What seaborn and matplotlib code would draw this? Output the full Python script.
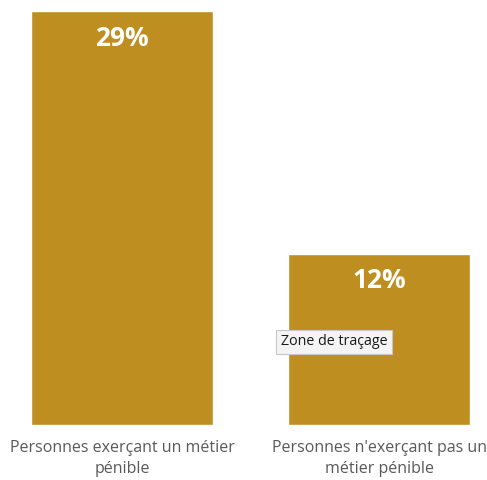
import matplotlib
matplotlib.use("Agg")
import matplotlib.pyplot as plt
import seaborn as sns
import pandas as pd

categories = ["Personnes exerçant un métier\npénible",
              "Personnes n'exerçant pas un\nmétier pénible"]
values = [29, 12]
value_labels = ["29%", "12%"]

sns.set_theme(style="white")
plt.rcParams["font.family"] = ["Open Sans", "DejaVu Sans"]

df = pd.DataFrame({"groupe": categories, "part": values})

fig = plt.figure(figsize=(4.87, 4.80), dpi=100)
ax = fig.add_axes([0, 0.115, 1, 0.862])

sns.barplot(data=df, x="groupe", y="part", color="#BF8E20", saturation=1,
            width=0.708, ax=ax)

ax.set_xlim(-0.475, 1.42)
ax.set_ylim(0, 29)
ax.set_xlabel("")
ax.set_ylabel("")
ax.set_yticks([])
for s in ax.spines.values():
    s.set_visible(False)
ax.tick_params(axis="x", length=0, pad=11, labelsize=11.5, labelcolor="#595959")
for lab in ax.get_xticklabels():
    lab.set_linespacing(1.45)

for i, (v, t) in enumerate(zip(values, value_labels)):
    ax.annotate(t, xy=(i, v), xytext=(0, -19.5), textcoords="offset points",
                ha="center", va="center", color="white", fontsize=19,
                fontweight="bold")

fig.text(0.686, 0.288, "Zone de traçage", ha="center", va="center",
         fontsize=10.3, color="#1a1a1a",
         bbox=dict(boxstyle="square,pad=0.3", facecolor="#F4F4F4",
                   edgecolor="#C8C8C8", linewidth=0.8))

fig.savefig("out.png", dpi=100)
